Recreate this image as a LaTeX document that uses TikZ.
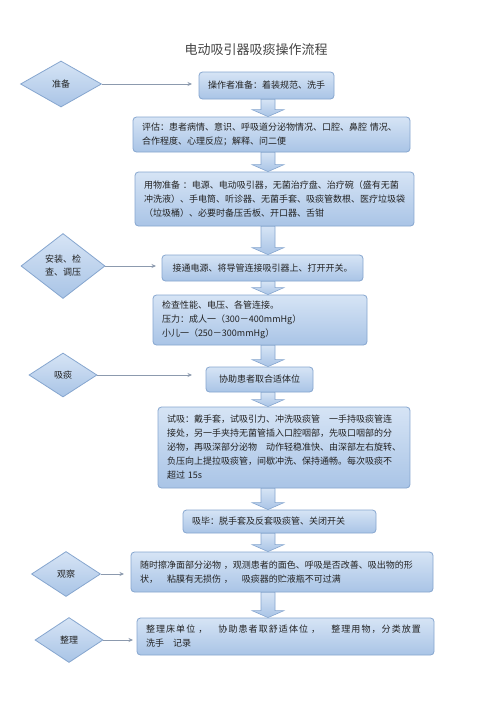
\documentclass[tikz,border=0pt]{standalone}
\usepackage{fontspec}
\setmainfont{Noto Sans CJK SC}
\newfontfamily\widecjk[LetterSpace=12]{Noto Sans CJK SC}
\usetikzlibrary{shapes.geometric,arrows.meta,calc}
\definecolor{boxborder}{HTML}{86A6CF}
\definecolor{boxtop}{HTML}{D6E4F5}
\definecolor{boxbot}{HTML}{A9C4E6}
\definecolor{textc}{HTML}{222222}
\definecolor{linec}{HTML}{8C9AAE}
\newcommand\blockarr[2]{%
  \path[barrow] let \p1=(#1.south -| axis), \p2=(#2.north -| axis) in
    (\x1-7pt,\y1) -- (\x1-7pt,\y2+7pt) -- (\x1-16pt,\y2+7pt) -- (\x1,\y2)
    -- (\x1+16pt,\y2+7pt) -- (\x1+7pt,\y2+7pt) -- (\x1+7pt,\y1) -- cycle;}
\tikzset{
  box/.style={draw=boxborder, line width=0.8pt, rounded corners=3.5pt,
    top color=boxtop, bottom color=boxbot, text=textc,
    font=\fontsize{9}{14}\selectfont, inner xsep=9pt, inner ysep=0pt},
  dia/.style={diamond, draw=boxborder, line width=0.8pt, top color=boxtop,
    bottom color=boxbot, text=textc, inner sep=0pt, align=center,
    font=\fontsize{9}{13}\selectfont},
  barrow/.style={draw=boxborder, line width=0.6pt, top color=boxtop, bottom color=boxbot},
  conn/.style={draw=linec, line width=0.8pt, -{Stealth[length=4.5pt,width=4pt]}}
}
\begin{document}
\begin{tikzpicture}[x=1pt,y=-1pt]
\useasboundingbox[fill=white] (0,0) rectangle (500,707);
\coordinate (axis) at (268,0);

\node[text=textc!85, font=\fontsize{13}{15}\selectfont] (title) at (256,50) {电动吸引器吸痰操作流程};

% boxes
\node[box, minimum width=135pt, minimum height=27pt, align=center] (b1) at (266.5,85.5)
  {操作者准备：着装规范、洗手};
\node[box, minimum width=277pt, minimum height=35pt, text width=259pt, align=left] (b2) at (271.5,134.5)
  {评估：患者病情、意识、呼吸道分泌物情况、口腔、鼻腔 情况、\\合作程度、心理反应；解释、问二便};
\node[box, minimum width=279pt, minimum height=54pt, text width=261pt, align=left] (b3) at (274.5,199)
  {用物准备 ：电源、电动吸引器，无菌治疗盘、治疗碗（盛有无菌\\冲洗液）、手电筒、听诊器、无菌手套、吸痰管数根、医疗垃圾袋\\（垃圾桶）、必要时备压舌板、开口器、舌钳};
\node[box, minimum width=201pt, minimum height=26pt, align=center] (b4) at (262.5,268)
  {接通电源、将导管连接吸引器上、打开开关。};
\node[box, minimum width=214pt, minimum height=50pt, text width=196pt, align=left] (b5) at (260,320)
  {检查性能、电压、各管连接。\\压力：成人一（300－400mmHg）\\小儿一（250－300mmHg）};
\node[box, minimum width=107pt, minimum height=25pt, align=center] (b6) at (259.5,379.5)
  {协助患者取合适体位};
\node[box, minimum width=252pt, minimum height=81pt, text width=234pt, align=left] (b7) at (284,447.5)
  {试吸：戴手套，试吸引力、冲洗吸痰管　一手持吸痰管连\\接处，另一手夹持无菌管插入口腔咽部，先吸口咽部的分\\泌物，再吸深部分泌物　动作轻稳准快、由深部左右旋转、\\负压向上提拉吸痰管，间歇冲洗、保持通畅。每次吸痰不\\超过 15s};
\node[box, minimum width=193pt, minimum height=23pt, text width=175pt, align=left] (b8) at (279.5,521.5)
  {吸毕：脱手套及反套吸痰管、关闭开关};
\node[box, minimum width=302pt, minimum height=40pt, text width=284pt, align=left] (b9) at (282,572)
  {随时擦净面部分泌物 ，观测患者的面色、呼吸是否改善、吸出物的形\\状，　粘膜有无损伤 ，　吸痰器的贮液瓶不可过满};
\node[box, minimum width=297pt, minimum height=37pt, text width=279pt, align=left] (b10) at (285.5,636.5)
  {{\widecjk 整理床单位 ，　协助患者取舒适体位 ，　整理用物，分类放置}\\洗手　记录};

% block arrows
\blockarr{b1}{b2}
\blockarr{b2}{b3}
\blockarr{b3}{b4}
\blockarr{b4}{b5}
\blockarr{b5}{b6}
\blockarr{b6}{b7}
\blockarr{b7}{b8}
\blockarr{b8}{b9}
\blockarr{b9}{b10}

% diamonds
\node[dia, minimum width=81pt, minimum height=46pt] (d1) at (61,84) {准备};
\node[dia, minimum width=84pt, minimum height=65pt] (d2) at (63,266) {安装、检\\查、调压};
\node[dia, minimum width=68pt, minimum height=44pt] (d3) at (63,375) {吸痰};
\node[dia, minimum width=69pt, minimum height=45pt] (d4) at (66,574) {观察};
\node[dia, minimum width=68pt, minimum height=45pt] (d5) at (69,640) {整理};

% connector ends
\coordinate (e1) at (192,84);
\coordinate (e2) at (156,266);
\coordinate (e3) at (192,375);
\coordinate (e4) at (124,574);
\coordinate (e5) at (133,640);
\draw[conn] (d1.east) -- (e1);
\draw[conn] (d2.east) -- (e2);
\draw[conn] (d3.east) -- (e3);
\draw[conn] (d4.east) -- (e4);
\draw[conn] (d5.east) -- (e5);
\end{tikzpicture}
\end{document}
